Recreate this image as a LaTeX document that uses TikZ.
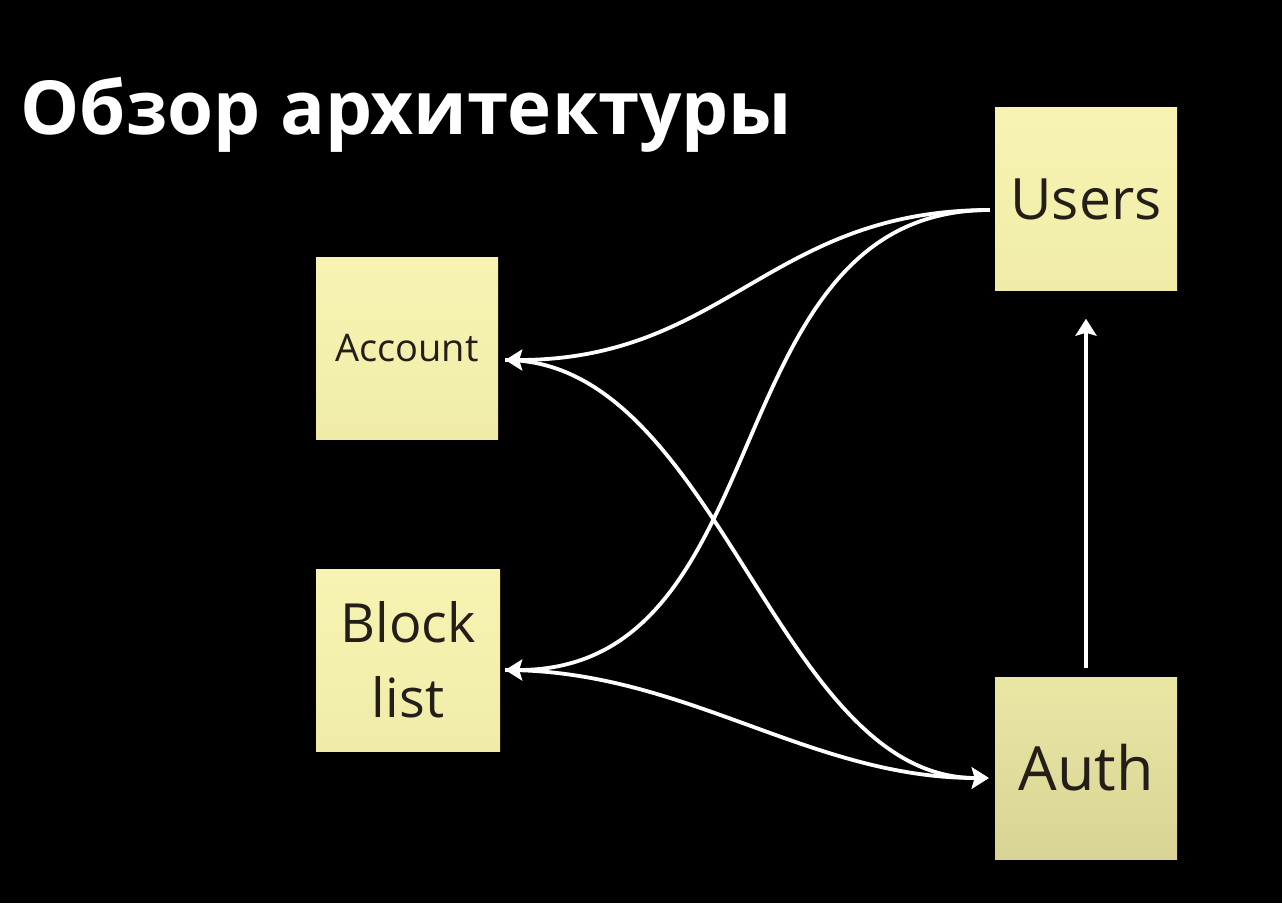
\documentclass[tikz,border=0pt]{standalone}
\usepackage{fontspec}
\setmainfont{Open Sans}
\usetikzlibrary{arrows.meta,positioning}
\tikzset{>={Stealth[length=17pt,width=21pt,inset=3pt]}}

\definecolor{notetop}{RGB}{247,243,178}
\definecolor{notebot}{RGB}{240,236,168}
\definecolor{authtop}{RGB}{234,230,164}
\definecolor{authbot}{RGB}{216,212,149}
\definecolor{notetext}{RGB}{35,31,24}

\tikzset{
  note/.style={rectangle, inner sep=0pt, minimum width=182pt, minimum height=182pt,
    top color=notetop, bottom color=notebot, text=notetext, align=center},
  link/.style={draw=white, line width=3.8pt},
}

\begin{document}
\begin{tikzpicture}[x=1pt,y=-1pt]

\fill[black] (0,0) rectangle (1282,903);
\useasboundingbox (0,0) rectangle (1282,903);

\node [anchor=base west, text=white, font=\fontsize{74.5}{80}\selectfont\bfseries] (title) at (17,134) {Обзор архитектуры};

\node [note, font=\fontsize{38}{44}\selectfont] (acc) at (407,348) {Account};
\node [note, minimum width=184pt, font=\fontsize{54}{75}\selectfont] (blk) at (408,660) {Block\\list};
\node [note, minimum height=183pt, font=\fontsize{57}{64}\selectfont] (usr) at (1086,199) {Users};
\node [note, top color=authtop, bottom color=authbot, font=\fontsize{61}{68}\selectfont] (auth) at (1086,768) {Auth};

\begin{scope}[link]
\draw[->] ([xshift=-5pt,yshift=-11pt]usr.west) .. controls +(-220,0) and +(220,0) .. ([xshift=7pt,yshift=-12pt]acc.east);
\draw[->] ([xshift=-5pt,yshift=-11pt]usr.west) .. controls +(-280,0) and +(280,0) .. ([xshift=5pt,yshift=-10pt]blk.east);
\draw[->] ([xshift=7pt,yshift=-12pt]acc.east) .. controls +(213,0) and +(-213,0) .. ([xshift=-6pt,yshift=-10pt]auth.west);
\draw[->] ([xshift=5pt,yshift=-10pt]blk.east) .. controls +(180,0) and +(-180,0) .. ([xshift=-6pt,yshift=-10pt]auth.west);
\draw[->, shorten >=28pt, shorten <=9pt] (auth.north) -- (usr.south);
\end{scope}

\end{tikzpicture}
\end{document}
